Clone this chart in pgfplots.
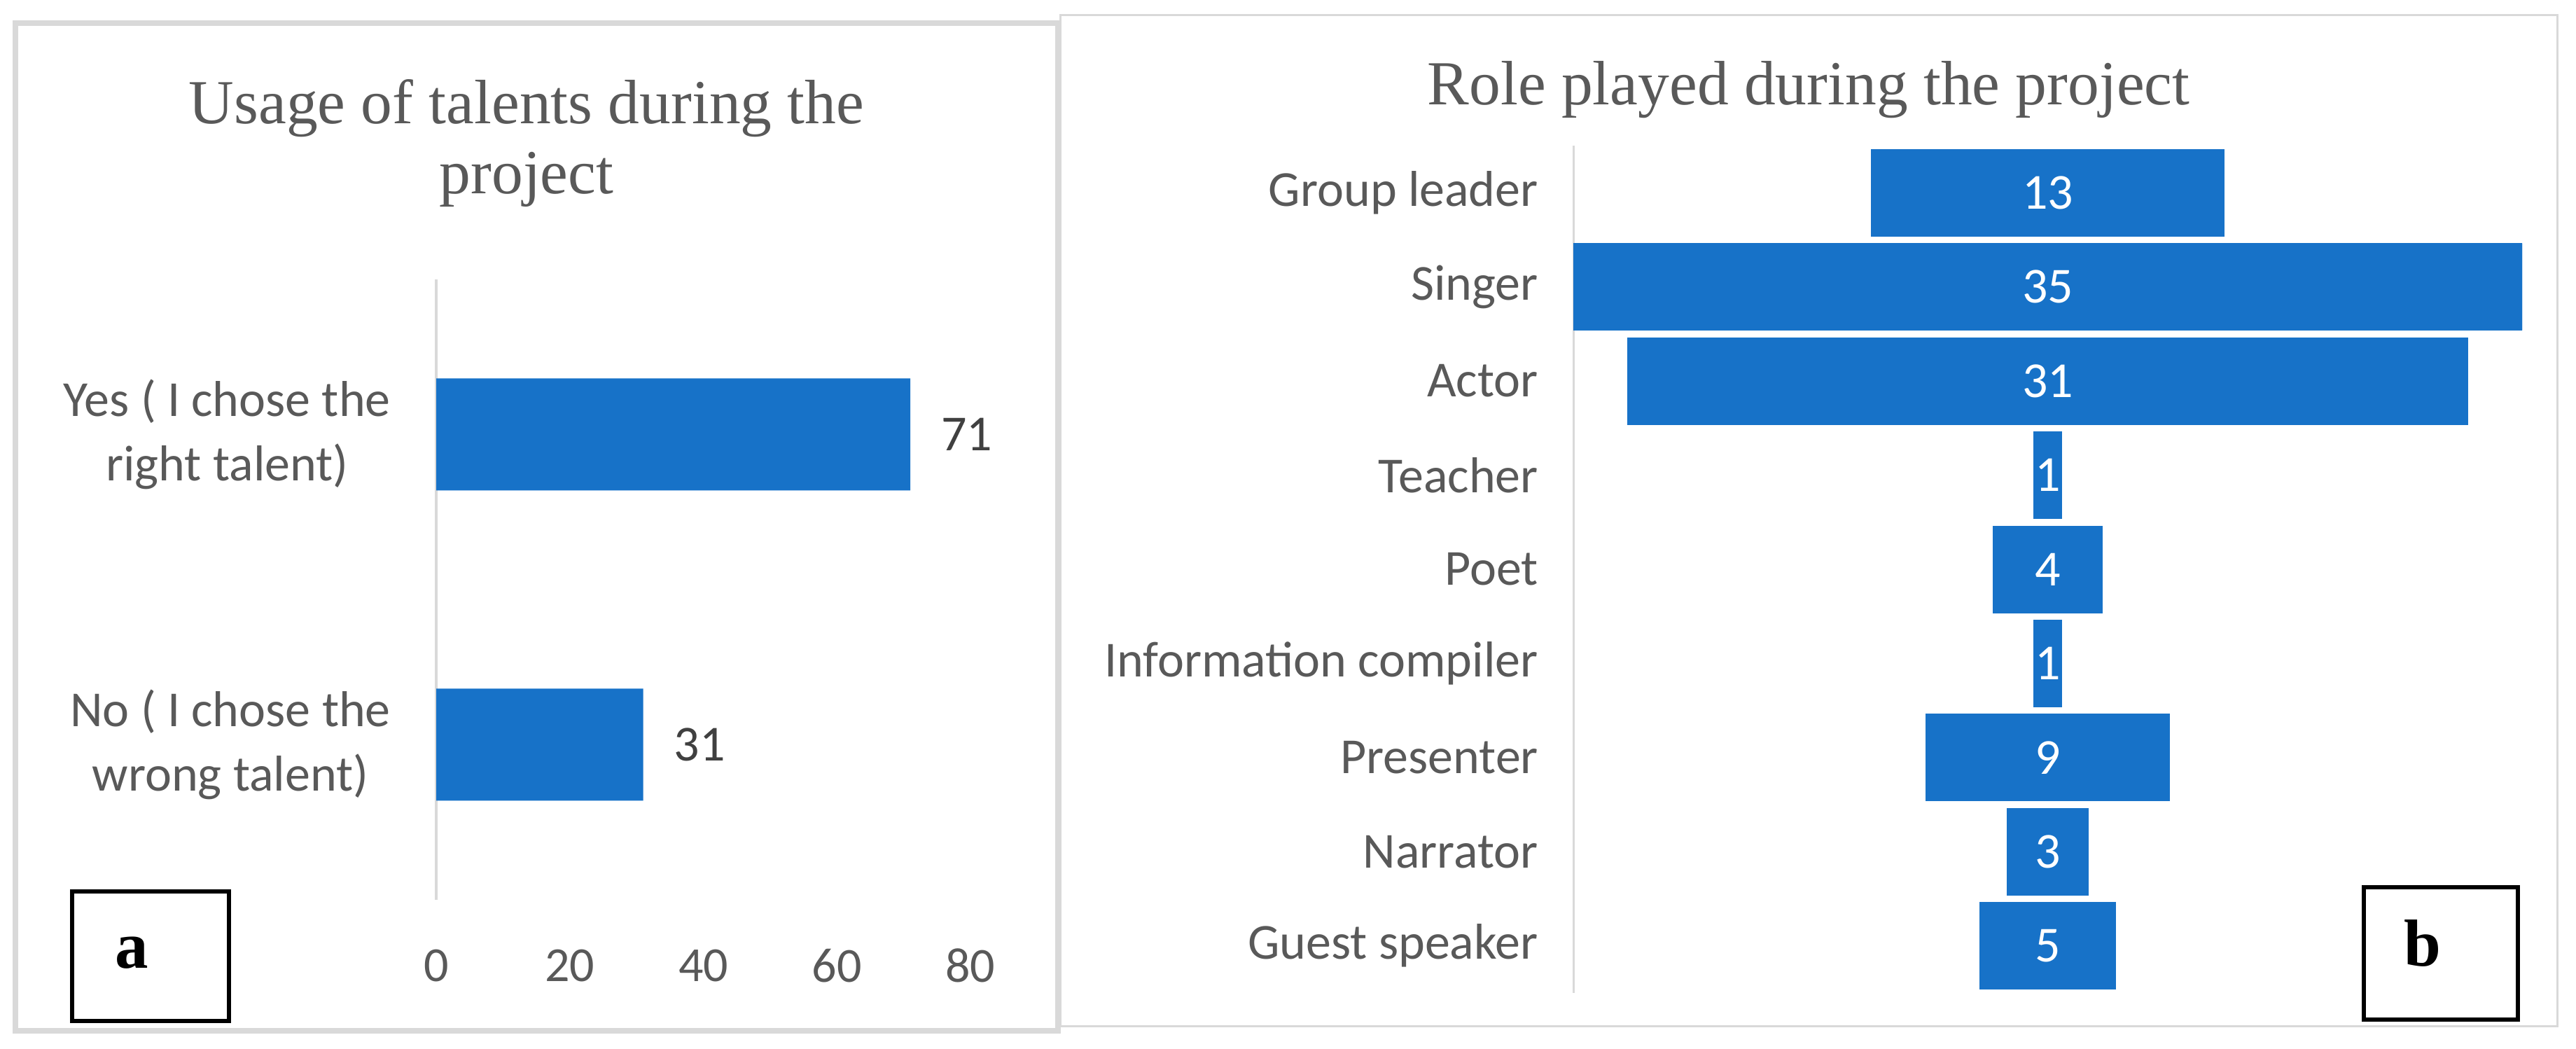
\documentclass[border=0pt]{standalone}
\usepackage{fontspec}
\setmainfont{Liberation Serif}
\newfontfamily\carlito{Carlito}
\usepackage{pgfplots}
\usepackage{pgfplotstable}
\pgfplotsset{compat=1.18}
\definecolor{barblue}{HTML}{1772C8}
\definecolor{txtgray}{HTML}{595959}
\definecolor{lblgray}{HTML}{404040}
\definecolor{framegray}{HTML}{D9D9D9}

\pgfplotstableread{
idx v
0 31
1 71
}\tableA

\pgfplotstableread{
idx v
0 13
1 35
2 31
3 1
4 4
5 1
6 9
7 3
8 5
}\tableB

\begin{document}
\begin{tikzpicture}
\path[use as bounding box] (0,0) rectangle (735.8pt,299.6pt);
\draw[framegray, line width=0.6pt] (302.9pt,6.4pt) rectangle (730.4pt,295.2pt);
\draw[framegray, line width=1.6pt] (4.3pt,5.1pt) rectangle (302.2pt,293pt);

\begin{axis}[
  at={(124.6pt,42.6pt)}, anchor=south west,
  scale only axis, width=152.6pt, height=177.2pt,
  xmin=0, xmax=80, ymin=-0.5, ymax=1.5,
  axis lines=left, axis line style={-},
  x axis line style={draw=none},
  y axis line style={framegray, line width=0.8pt},
  xtick={0,20,40,60,80}, ytick={0,1},
  yticklabels={{No ( I chose the\\wrong talent)},{Yes ( I chose the\\right talent)}},
  major tick length=0pt,
  xticklabel style={font=\carlito\fontsize{14}{16}\selectfont, text=txtgray, anchor=center, yshift=-18.8pt},
  yticklabel style={font=\carlito\fontsize{14.4}{18.4}\selectfont, text=txtgray, align=center, xshift=-9.5pt},
  /pgf/number format/assume math mode=true,
]
\addplot[xbar, bar width=32pt, bar shift=0pt, fill=barblue, draw=none,
  nodes near coords, point meta=explicit,
  every node near coord/.append style={anchor=west, xshift=5.3pt, text=lblgray, font=\carlito\fontsize{14.4}{17}\selectfont}]
  table[x=v, y=idx, meta=v] {\tableA};
\end{axis}

\begin{axis}[
  at={(449.4pt,16pt)}, anchor=south west,
  scale only axis, width=271pt, height=242pt,
  xmin=-17.5, xmax=17.5, ymin=-0.5, ymax=8.5, y dir=reverse,
  axis lines=left, axis line style={-},
  x axis line style={draw=none},
  y axis line style={framegray, line width=0.6pt},
  xtick=\empty, ytick={0,1,2,3,4,5,6,7,8},
  yticklabels={Group leader,Singer,Actor,Teacher,Poet,Information compiler,Presenter,Narrator,Guest speaker},
  major tick length=0pt,
  yticklabel style={font=\carlito\fontsize{14.4}{17}\selectfont, text=txtgray, xshift=-6.5pt},
  /pgf/number format/assume math mode=true,
]
\addplot[xbar, bar width=24.7pt, bar shift=0pt, fill=barblue, draw=barblue, line width=0.3pt]
  table[x expr=\thisrow{v}/2, y=idx] {\tableB};
\addplot[xbar, bar width=24.7pt, bar shift=0pt, fill=barblue, draw=barblue, line width=0.3pt]
  table[x expr=-\thisrow{v}/2, y=idx] {\tableB};
\addplot[draw=none, mark=none, nodes near coords, point meta=explicit,
  every node near coord/.append style={anchor=center, text=white, font=\carlito\fontsize{14.4}{17}\selectfont}]
  table[x expr=0, y=idx, meta=v] {\tableB};
\end{axis}

\node[anchor=base, text=txtgray, font=\fontsize{17.9}{20}\selectfont] at (150.4pt,264.2pt) {Usage of talents during the};
\node[anchor=base, text=txtgray, font=\fontsize{17.9}{20}\selectfont] at (150.4pt,244.2pt) {project};
\node[anchor=base, text=txtgray, font=\fontsize{17.9}{20}\selectfont] at (516.6pt,269.6pt) {Role played during the project};

\draw[black, line width=1.2pt] (20.6pt,8pt) rectangle (65.4pt,45pt);
\node[anchor=base, font=\bfseries\fontsize{19}{20}\selectfont] at (37.6pt,23pt) {a};
\draw[black, line width=1.3pt] (675.2pt,8.4pt) rectangle (719.2pt,46.2pt);
\node[anchor=base, font=\bfseries\fontsize{19}{20}\selectfont] at (692pt,23.6pt) {b};
\end{tikzpicture}
\end{document}
